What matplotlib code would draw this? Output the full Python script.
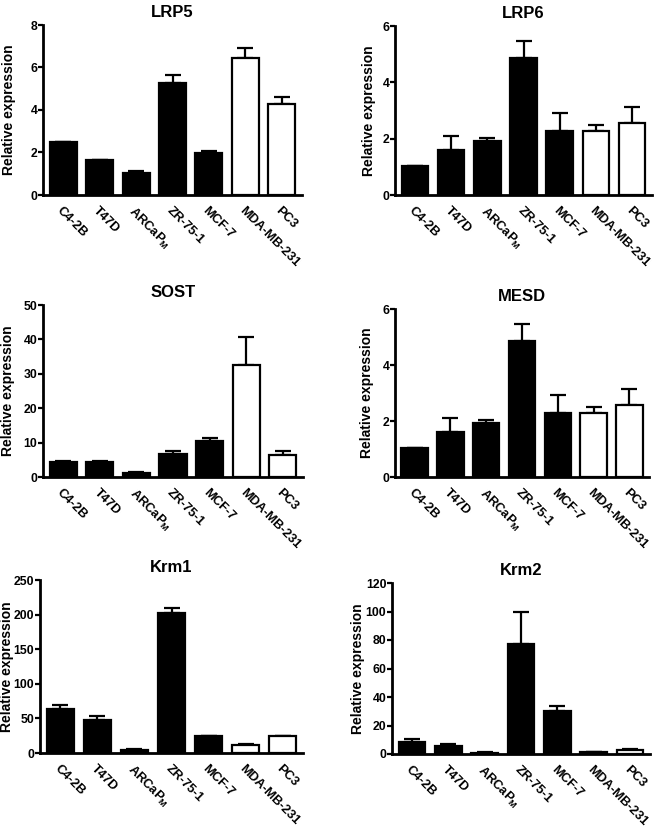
import numpy as np
import matplotlib
matplotlib.use("Agg")
import matplotlib.pyplot as plt

plt.rcParams['font.family'] = ['Liberation Sans', 'DejaVu Sans']
plt.rcParams['font.weight'] = 'bold'
plt.rcParams['mathtext.fontset'] = 'custom'
plt.rcParams['mathtext.bf'] = 'Liberation Sans:bold'
plt.rcParams['mathtext.rm'] = 'Liberation Sans:bold'

cell_lines = ['C4-2B', 'T47D', r'ARCaP$_{\mathbf{M}}$', 'ZR-75-1', 'MCF-7',
              'MDA-MB-231', 'PC3']
open_bars = [False, False, False, False, False, True, True]

lrp5 = [2.5, 1.65, 1.02, 5.25, 1.96, 6.46, 4.27]
lrp5_err = [0.0, 0.0, 0.13, 0.4, 0.1, 0.45, 0.33]

lrp6 = [1.03, 1.6, 1.92, 4.87, 2.28, 2.27, 2.57]
lrp6_err = [0.0, 0.49, 0.12, 0.6, 0.64, 0.23, 0.57]

sost = [4.4, 4.4, 1.2, 6.6, 10.5, 32.7, 6.3]
sost_err = [0.3, 0.15, 0.25, 1.0, 0.9, 8.1, 1.2]

mesd = [1.03, 1.6, 1.92, 4.87, 2.28, 2.27, 2.57]
mesd_err = [0.0, 0.49, 0.12, 0.6, 0.64, 0.23, 0.57]

krm1 = [64, 48, 4.8, 203, 24, 12, 24.5]
krm1_err = [5, 5, 0.5, 6, 1, 0.5, 0.5]

krm2 = [8.7, 5.9, 0.9, 77, 30, 1.2, 2.8]
krm2_err = [1.5, 0.9, 0.2, 23, 4, 0.2, 0.6]

# title, values, errors, y ticks, axes box in pixels, y label centre x (px)
panels = [
    ('LRP5', lrp5, lrp5_err, [0, 2, 4, 6, 8], [43, 302, 25, 195], 9),
    ('LRP6', lrp6, lrp6_err, [0, 2, 4, 6], [395, 652, 26, 195], 369),
    ('SOST', sost, sost_err, [0, 10, 20, 30, 40, 50], [43, 303, 305, 477], 8),
    ('MESD', mesd, mesd_err, [0, 2, 4, 6], [395, 649, 309, 477], 367),
    ('Krm1', krm1, krm1_err, [0, 50, 100, 150, 200, 250], [40, 303, 580, 753], 7),
    ('Krm2', krm2, krm2_err, [0, 20, 40, 60, 80, 100, 120], [392, 650, 583, 754], 358),
]

W, H = 664, 830
fig = plt.figure(figsize=(W / 100, H / 100), dpi=100)

for title, vals, errs, yticks, (x0, x1, y0, y1), lab_x in panels:
    ax = fig.add_axes([x0 / W, 1 - y1 / H, (x1 - x0) / W, (y1 - y0) / H])
    x = np.arange(len(vals))
    colors = ['white' if o else 'black' for o in open_bars]
    ax.bar(x, vals, width=0.74, color=colors, edgecolor='black', linewidth=1.6,
           zorder=2)
    ax.errorbar(x, vals, yerr=[np.zeros(len(errs)), errs], fmt='none',
                ecolor='black', elinewidth=1.6, capsize=5.5, capthick=1.6,
                zorder=1)
    ax.set_xlim(-0.55, 6.55)
    ax.set_ylim(0, yticks[-1])
    ax.set_yticks(yticks)
    ax.set_xticks(x)
    ax.set_xticklabels(cell_lines, rotation=-45, ha='left', va='top',
                       rotation_mode='anchor', fontsize=9.3, fontweight='bold')
    ax.tick_params(axis='x', length=0, pad=7)
    ax.tick_params(axis='y', length=3.6, width=1.6, labelsize=8.8, pad=0.5)
    for lab in ax.get_yticklabels():
        lab.set_fontweight('bold')
    ax.spines['top'].set_visible(False)
    ax.spines['right'].set_visible(False)
    ax.spines['left'].set_linewidth(2)
    ax.spines['bottom'].set_linewidth(2)
    ax.set_ylabel('Relative expression', fontsize=10, fontweight='bold')
    ax.yaxis.set_label_coords((lab_x - x0) / (x1 - x0), 0.5)
    ax.yaxis.label.set_verticalalignment('center')
    ax.set_title(title, fontsize=12, fontweight='bold', pad=6)

fig.savefig('out.png', dpi=100)
